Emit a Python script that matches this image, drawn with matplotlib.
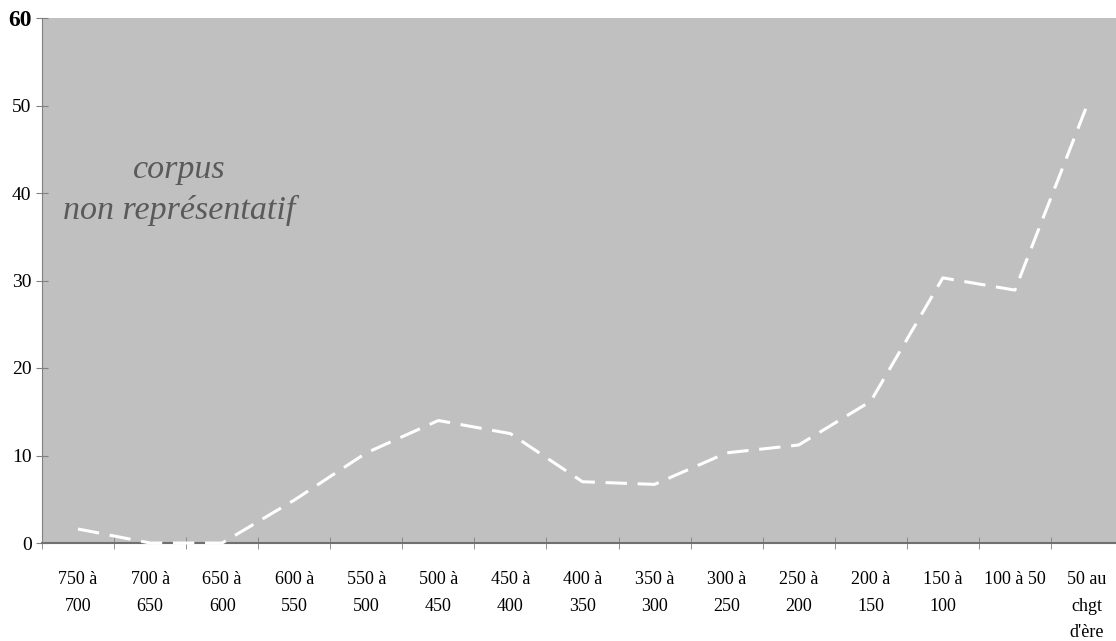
import numpy as np
import matplotlib.pyplot as plt

# periodes (av. J.-C.) et pourcentages
periodes = ["750 à\n700", "700 à\n650", "650 à\n600", "600 à\n550", "550 à\n500",
            "500 à\n450", "450 à\n400", "400 à\n350", "350 à\n300", "300 à\n250",
            "250 à\n200", "200 à\n150", "150 à\n100", "100 à 50", "50 au\nchgt\nd'ère"]
valeurs = [1.6, 0, 0, 4.9, 10.3, 14.0, 12.5, 7.0, 6.7, 10.3, 11.2, 16.2, 30.3, 28.9, 50.0]
yticks = [0, 10, 20, 30, 40, 50, 60]

plt.rcParams['font.family'] = ['Liberation Serif', 'DejaVu Serif']

fig = plt.figure(figsize=(11.16, 6.41), dpi=100)
ax = fig.add_axes([42 / 1116, 98 / 641, 1081 / 1116, 525 / 641])
ax.set_facecolor("#c0c0c0")

x = np.arange(len(valeurs))
ax.plot(x, valeurs, color="white", linestyle=(0, (7, 3.5)), linewidth=2.2, clip_on=False, zorder=3)

ax.text(1.41, 40.3, "corpus\nnon représentatif", ha="center", va="center",
        fontsize=24.5, style="italic", color="#5a5a5a", linespacing=1.4)

ax.set_xlim(-0.5, len(valeurs) - 0.5)
ax.set_ylim(0, 60)
ax.set_yticks(yticks)
ax.set_xticks(x)
ax.set_xticklabels(periodes, fontsize=13, linespacing=1.75, va="top")
ax.set_xticks(np.arange(len(valeurs) + 1) - 0.5, minor=True)
ax.tick_params(axis="x", which="major", length=0, pad=20)
ax.tick_params(axis="x", which="minor", length=9, color="#808080", direction="inout")
ax.tick_params(axis="y", length=9, color="#808080", direction="inout", labelsize=14, pad=3)
lbl = ax.get_yticklabels()[-1]
lbl.set_fontweight("bold")
lbl.set_fontsize(17)

for side in ["top", "right"]:
    ax.spines[side].set_visible(False)
ax.spines["left"].set_color("#808080")
ax.spines["bottom"].set_color("#707070")
ax.spines["bottom"].set_linewidth(1.5)

fig.savefig("out.png", dpi=100)
